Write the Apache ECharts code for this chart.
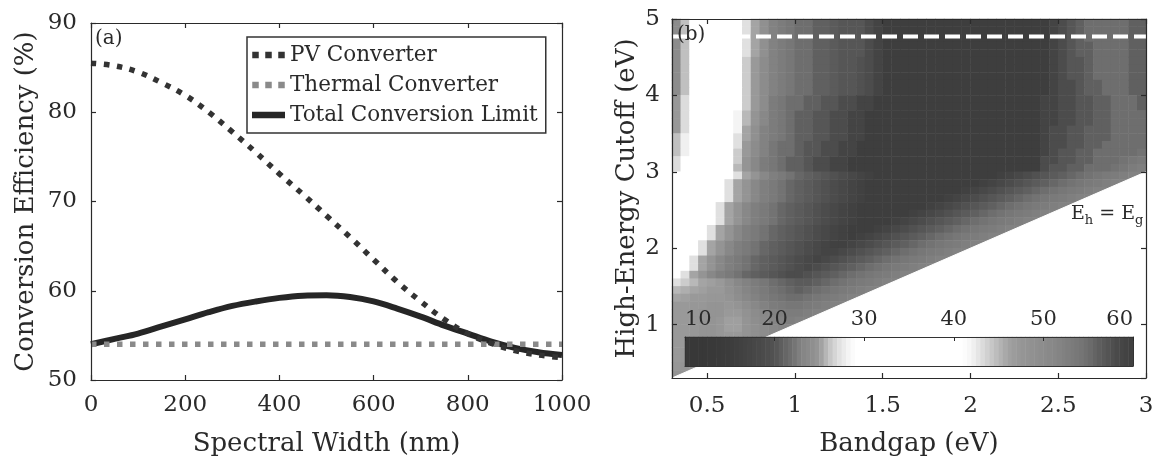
<!DOCTYPE html>
<html>
<head>
<meta charset="utf-8">
<script src="https://cdn.jsdelivr.net/npm/echarts@6/dist/echarts.min.js"></script>
<style>
  html, body { margin: 0; padding: 0; background: #fff; }
  #chart { width: 1157px; height: 462px; }
</style>
</head>
<body>
<div id="chart"></div>
<script>
// ---- (a) conversion efficiency against spectral width ----
const spectralWidth = [0, 50, 100, 150, 200, 250, 300, 350, 400, 450, 500,
                       550, 600, 650, 700, 750, 800, 850, 900, 950, 1000];
const pvConverter = [85.5, 85.2, 84.5, 83.3, 81.9, 80.0, 77.8, 75.5, 73.1, 70.8, 68.4,
                     66.0, 63.5, 61.0, 58.8, 56.8, 55.2, 54.1, 53.3, 52.8, 52.5];
const thermalConverter = [54.0, 54.0, 54.0, 54.0, 54.0, 54.0, 54.0, 54.0, 54.0, 54.0, 54.0,
                          54.0, 54.0, 54.0, 54.0, 54.0, 54.0, 54.0, 54.0, 54.0, 54.0];
const totalLimit = [54.0, 54.6, 55.2, 56.0, 56.8, 57.6, 58.3, 58.8, 59.2, 59.45, 59.5,
                    59.3, 58.8, 58.0, 57.1, 56.1, 55.2, 54.3, 53.6, 53.1, 52.8];
const seriesNames = ['PV Converter', 'Thermal Converter', 'Total Conversion Limit'];

// ---- (b) efficiency map: bandgap columns (0.05 eV), high-energy cutoff rows (0.1 eV) ----
const bandgapCells = [0.325,0.375,0.425,0.475,0.525,0.575,0.625,0.675,0.725,0.775,0.825,0.875,0.925,0.975,
                      1.025,1.075,1.125,1.175,1.225,1.275,1.325,1.375,1.425,1.475,1.525,1.575,1.625,1.675,
                      1.725,1.775,1.825,1.875,1.925,1.975,2.025,2.075,2.125,2.175,2.225,2.275,2.325,2.375,
                      2.425,2.475,2.525,2.575,2.625,2.675,2.725,2.775,2.825,2.875,2.925,2.975];
const cutoffCells = [0.35, 0.45, 0.55, 0.65, 0.75, 0.85, 0.95, 1.05, 1.15, 1.25, 1.35, 1.45, 1.55, 1.65,
                     1.75, 1.85, 1.95, 2.05, 2.15, 2.25, 2.35, 2.45, 2.55, 2.65, 2.75, 2.85, 2.95, 3.05,
                     3.15, 3.25, 3.35, 3.45, 3.55, 3.65, 3.75, 3.85, 3.95, 4.05, 4.15, 4.25, 4.35, 4.45,
                     4.55, 4.65, 4.75, 4.85, 4.95];
// efficiency (%) rows, highest cutoff first; each row stops at the E_h = E_g edge
const efficiencyRows = [
  /*4.95*/ [24,26,36,36,36,36,36,40,43,46,49,52,53,54,55,55,56,56,56.5,57,57,57,58,59, 60,60,60,60,60,60,60,60,60,60,60,60,60,60,60,60,60,60, 60,59,58,57,56,55,55,55,55,55,56,56],
  /*4.85*/ [24,26,36,36,36,36,36,40,43,46,49,52,53,54,55,55,56,56,56.5,57,57,57,58,59, 60,60,60,60,60,60,60,60,60,60,60,60,60,60,60,60,60,60, 60,59,58,57,56,55,55,55,55,55,56,56],
  /*4.75*/ [24,26,36,36,36,36,36,40,43,46,49,52,53,54,55,55,56,56,56.5,57,57,57,58,59, 60,60,60,60,60,60,60,60,60,60,60,60,60,60,60,60,60,60, 60,59,58,57,56,55,55,55,55,55,56,56],
  /*4.65*/ [24,26,36,36,36,36,36,41,43,46,49,52,53,54,55,55,56,56,56.5,57,57,57,58,59, 60,60,60,60,60,60,60,60,60,60,60,60,60,60,60,60,60,60, 60,59,58,57,56,56,55,55,55,55,56,56],
  /*4.55*/ [24,26,36,36,36,36,36,41,43,46,49,52,53,54,55,55,56,56,56.5,57,57,57,58,59, 60,60,60,60,60,60,60,60,60,60,60,60,60,60,60,60,60,60, 60,59,58,57,56,56,55,55,55,55,56,56],
  /*4.45*/ [24,26,36,36,36,36,36,41,44,47,50,52,53,54,55,55,56,56,56.5,57,57,57.5,58,59, 60,60,60,60,60,60,60,60,60,60,60,60,60,60,60,60,60,60, 60,59,58,57,57,56,55,55,55,55,56,56],
  /*4.35*/ [24,26,36,36,36,36,36,41,44,47,50,52,53,54,55,55,56,56,56.5,57,57,57.5,58,59, 60,60,60,60,60,60,60,60,60,60,60,60,60,60,60,60,60,60, 60,59,58,57,57,56,55,55,55,55,56,56],
  /*4.25*/ [24,26,36,36,36,36,36,41,44,47,50,52,53,54,55,55,56,56,56.5,57,57,57.5,58,59, 60,60,60,60,60,60,60,60,60,60,60,60,60,60,60,60,60,60, 60,59,58,57,57,56,55,55,55,55,56,56],
  /*4.15*/ [24,26,36,36,36,36,36,41,44,47,50,52,53,54,55,55,56,56,56.5,57,57,57.5,58,59, 60,60,60,60,60,60,60,60,60,60,60,60,60,60,60,60,60,60, 60,59,58,58,57,56,56,55,55,55,56,56],
  /*4.05*/ [24,26,36,36,36,36,36,41,44,47,50,52,53,54,55,55,56,56,56.5,57,57,57.5,58,59, 60,60,60,60,60,60,60,60,60,60,60,60,60,60,60,60,60,60, 60,59,58,58,57,56,56,55,55,55,56,56],
  /*3.95*/ [25,27,36,36,36,36,36,41,44,47,50,53,54,55,55,56,56,57,57,58,58,59,59,60, 60,60,60,60,60,60,60,60,60,60,60,60,60,60,60,60,60,60, 59,59,58,58,57,57,56,56,55,55,55,56],
  /*3.85*/ [25,27,36,36,36,36,36,41,44,47,50,53,54,55,55,56,56,57,57,58,58,59,59,60, 60,60,60,60,60,60,60,60,60,60,60,60,60,60,60,60,60,60, 59,59,58,58,57,57,56,56,55,55,55,56],
  /*3.75*/ [25,27,36,36,36,36,37,42,45,48,51,53,54,55,56,56,57,57,58,58,59,59,60,60, 60,60,60,60,60,60,60,60,60,60,60,60,60,60,60,60,60,60, 59,59,58,58,57,57,56,56,55,55,55,55],
  /*3.65*/ [25,27,36,36,36,36,37,42,45,48,51,53,54,55,56,56,57,57,58,58,59,59,60,60, 60,60,60,60,60,60,60,60,60,60,60,60,60,60,60,60,60,60, 59,59,58,58,57,57,56,56,55,55,55,55],
  /*3.55*/ [25,27,36,36,36,36,38,42,46,49,52,53,54,55,56,56,57,57,58,58,59,59,60,60, 60,60,60,60,60,60,60,60,60,60,60,60,60,60,60,60,60,60, 59,58,58,57,57,56,56,56,55,55,55,55],
  /*3.45*/ [26,28,36,36,36,36,39,43,46,49,52,53,54,55,56,56,57,57,58,58,59,59,60,60, 60,60,60,60,60,60,60,60,60,60,60,60,60,60,60,60,60,60, 59,58,58,57,57,56,56,56,55,55,55,55],
  /*3.35*/ [26,28,36,36,36,36,40,43,47,50,52,54,55,55,56,57,57,58,58,59,59,60,60,60, 60,60,60,60,60,60,60,60,60,60,60,60,60,60,60,60,60,60, 59,58,58,57,57,56,56,55,55,55,55,55],
  /*3.25*/ [26,28,36,36,36,36,40,44,47,50,52,54,55,55,56,57,57,58,58,59,59,60,60,60, 60,60,60,60,60,60,60,60,60,60,60,60,60,60,60,60,60,60, 59,58,57,57,56,56,55,55,55,55,55,54.5],
  /*3.15*/ [27,29,36,36,36,37,41,44,48,51,53,54,55,56,56,57,58,58,59,59,60,60,60,60, 60,60,60,60,60,60,60,60,60,60,60,60,60,60,60,60,60,60, 58,58,57,57,56,56,55,55,55,54.5,54,53.5],
  /*3.05*/ [27,29,36,36,36,37,41,45,48,51,53,54,55,56,56,57,58,58,59,59,60,60,60,60, 60,60,60,60,60,60,60,60,60,60,60,60,60,60,60,60,60,60, 58,57,57,56,56,55,55,55,54.5,54,53,52.5],
  /*2.95*/ [34,36,36,36,36,36, 40,43,46,48,51,52.5,53.5,54.5,55.5,56,56.5,57,57.5,58,58.5,59,59.5, 60,60,60,60,60,60,60,60,60,60,60,60,60,60, 59.5,59,58.5,58,57.5,57,56.5,56,55.5,55,54.5,54,53.5,53,52.5,52,52],
  /*2.85*/ [34,36,36,36,36, 40,43,46,48,51,52.5,53.5,54.5,55.5,56,56.5,57,57.5,58,58.5,59,59.5, 60,60,60,60,60,60,60,60,60,60,60,60,60, 59.5,59,58.5,58,57.5,57,56.5,56,55.5,55,54.5,54,53.5,53,52.5,52,52],
  /*2.75*/ [34,36,36,36,36, 40,43,46,48,51,52.5,53.5,54.5,55.5,56,56.5,57,57.5,58,58.5,59,59.5, 60,60,60,60,60,60,60,60,60,60,60, 59.5,59,58.5,58,57.5,57,56.5,56,55.5,55,54.5,54,53.5,53,52.5,52,52],
  /*2.65*/ [34,36,36,36,36, 40,43,46,48,51,52.5,53.5,54.5,55.5,56,56.5,57,57.5,58,58.5,59,59.5, 60,60,60,60,60,60,60,60,60, 59.5,59,58.5,58,57.5,57,56.5,56,55.5,55,54.5,54,53.5,53,52.5,52,52],
  /*2.55*/ [34,36,36,36, 40,43,46,48,51,52.5,53.5,54.5,55.5,56,56.5,57,57.5,58,58.5,59,59.5, 60,60,60,60,60,60,60,60, 59.5,59,58.5,58,57.5,57,56.5,56,55.5,55,54.5,54,53.5,53,52.5,52,52],
  /*2.45*/ [34,36,36,36, 40,43,46,48,51,52.5,53.5,54.5,55.5,56,56.5,57,57.5,58,58.5,59,59.5, 60,60,60,60,60,60, 59.5,59,58.5,58,57.5,57,56.5,56,55.5,55,54.5,54,53.5,53,52.5,52,52],
  /*2.35*/ [34,36,36,36, 40,43,46,48,51,52.5,53.5,54.5,55.5,56,56.5,57,57.5,58,58.5,59,59.5, 60,60,60,60, 59.5,59,58.5,58,57.5,57,56.5,56,55.5,55,54.5,54,53.5,53,52.5,52,52],
  /*2.25*/ [34,36,36, 40,43,46,48,51,52.5,53.5,54.5,55.5,56,56.5,57,57.5,58,58.5,59,59.5, 60,60,60, 59.5,59,58.5,58,57.5,57,56.5,56,55.5,55,54.5,54,53.5,53,52.5,52,52],
  /*2.15*/ [34,36,36, 40,43,46,48,51,52.5,53.5,54.5,55.5,56,56.5,57,57.5,58,58.5,59,59.5, 60, 59.5,59,58.5,58,57.5,57,56.5,56,55.5,55,54.5,54,53.5,53,52.5,52,52],
  /*2.05*/ [34,37, 40,43,46,48,51,52.5,53.5,54.5,55.5,56,56.5,57,57.5,58,58.5,59,59.5, 59.5,59,58.5,58,57.5,57,56.5,56,55.5,55,54.5,54,53.5,53,52.5,52,52],
  /*1.95*/ [35,38, 40,43,46,48,51,52.5,53.5,54.5,55.5,56,56.5,57,57.5,58,58.5, 59,59, 58.5,58,57.5,57,56.5,56,55.5,55,54.5,54,53.5,53,52.5,52,52],
  /*1.85*/ [36, 40,43,46,48,51,52.5,53.5,54.5,55.5,56,56.5,57,57.5,58, 58.5,59,58.5, 58,57.5,57,56.5,56,55.5,55,54.5,54,53.5,53,52.5,52,52],
  /*1.75*/ [38, 40,43,46,48,51,52.5,53.5,54.5,55.5,56,56.5,57, 57.5,58,58.5,58,57.5, 57,56.5,56,55.5,55,54.5,54,53.5,53,52.5,52,52],
  /*1.65*/ [40,43,46,48,51,52.5,53.5,54.5,55.5,56,56.5, 57,57.5,58,58,57.5,57, 56.5,56,55.5,55,54.5,54,53.5,53,52.5,52,52],
  /*1.55*/ [43,44,45,46,46.5,47,49,51,52,53,54,55,55.5,56,56.5, 56.5,56,55.5,55,54.5,54,53.5,53,52.5,52,52],
  /*1.45*/ [45,45.5,46,46.5,47,47,48.5,50,51.5,52.5,53.5,54.5,55,55.5, 56,55.5,55,54.5,54,53.5,53,52.5,52,52],
  /*1.35*/ [46,46.5,47,47,47.5,47.5,48,49.5,51,52,53,54,54.5, 55,55,54.5,54,53.5,53,52.5,52,52],
  /*1.25*/ [47,47,47.5,47.5,48,48,47.5,48,49.5,51,52,53,53.5,54,54,53.5,53,52.5,52,52],
  /*1.15*/ [47,47,47.5,48,48,48,47,47,48.5,50,51,52,52.5,53,53,52.5,52,52],
  /*1.05*/ [47,47,47.5,48,48,47.5,46.5,46.5,48,49.5,50.5,51.5,52,52.5,52,52],
  /*0.95*/ [47,47,47.5,48,48,47.5,46.5,46.5,48,49,50,51,51.5,51.5],
  /*0.85*/ [47,47,47.5,48,48,47.5,47,47,48,49,50,51],
  /*0.75*/ [47,47,47.5,48,48,48,47.5,48,49,50],
  /*0.65*/ [47,47.5,48,48,48,48,49,50],
  /*0.55*/ [47,47.5,48,48,48.5,49],
  /*0.45*/ [47.5,48,48,48.5],
  /*0.35*/ [48,48]
];
const edgeLine = [[0.3, 0.3], [3.0, 3.0]];      // E_h = E_g
const solarCutoff = [[0.3, 4.77], [3.0, 4.77]]; // dashed cutoff level
const colorbarMin = 10, colorbarMax = 60, colorbarStep = 10, colorbarResolution = 0.5;

// gray ramp used for the map and its colour bar, one entry per percent from 10 to 60
const grayRamp = [
  '#383838','#383838','#383838','#393939','#3a3a3a','#3c3c3c','#404040','#444444','#484848','#4c4c4c',
  '#525252','#626262','#707070','#848484','#8c8c8c','#989898','#c0c0c0','#dcdcdc','#f0f0f0','#ffffff',
  '#ffffff','#ffffff','#ffffff','#ffffff','#ffffff','#ffffff','#ffffff','#ffffff','#ffffff','#ffffff',
  '#ffffff','#ffffff','#f4f4f4','#e0e0e0','#cccccc','#b8b8b8','#a4a4a4','#999999','#949494','#909090',
  '#8c8c8c','#888888','#828282','#7c7c7c','#777777','#6e6e6e','#606060','#565656','#4c4c4c','#444444',
  '#3e3e3e'
];

const FONT = 'DejaVu Serif';
const INK = '#2a2a2a';

const pair = (xs, ys) => xs.map((x, i) => [x, ys[i]]);
const heatData = [];
efficiencyRows.forEach((row, i) => {
  row.forEach((v, j) => heatData.push([j, cutoffCells.length - 1 - i, v]));
});
// colour key: one cell per colorbarResolution step across the bar
const keyLevels = [];
for (let v = colorbarMin + colorbarResolution / 2; v < colorbarMax; v += colorbarResolution) keyLevels.push(v);
const keyData = keyLevels.map((v, k) => [k, 0, v]);

function frameAxis(extra) {
  return Object.assign({
    type: 'value',
    z: 6,
    axisLine: { show: true, onZero: false, lineStyle: { color: INK, width: 1.2 } },
    axisTick: { show: true, inside: true, length: 5, lineStyle: { color: INK, width: 1.2 } },
    splitLine: { show: false },
    axisLabel: { color: INK, fontFamily: FONT, fontSize: 23 },
    nameLocation: 'middle',
    nameTextStyle: { color: INK, fontFamily: FONT, fontSize: 26 }
  }, extra);
}
const mirror = { axisLabel: { show: false } };
const keyFrame = (extra) => Object.assign({
  type: 'value', gridIndex: 2, z: 10,
  axisLine: { show: true, onZero: false, lineStyle: { color: '#333', width: 1 } },
  axisTick: { show: false }, axisLabel: { show: false }, splitLine: { show: false }
}, extra);

const dotted = 'path://M0 0h6v6H0z M12 0h6v6h-6z M24 0h6v6h-6z';

const chart = echarts.init(document.getElementById('chart'), null, { renderer: 'canvas' });
chart.setOption({
  animation: false,
  backgroundColor: '#fff',
  grid: [
    { left: 91, top: 23, width: 471, height: 360 },
    { left: 672, top: 19, width: 474, height: 360 },
    { left: 685, top: 337, width: 448, height: 29 }
  ],
  title: [
    { text: '(a)', left: 95, top: 29, padding: 0,
      textStyle: { fontFamily: FONT, fontSize: 20, fontWeight: 'normal', color: INK } },
    { text: '(b)', left: 677, top: 25, padding: 0,
      textStyle: { fontFamily: FONT, fontSize: 20, fontWeight: 'normal', color: INK } },
    { text: '{e|E}{s|h}{e| = E}{s|g}', left: 1071, top: 205, padding: 0,
      textStyle: { fontFamily: FONT, fontWeight: 'normal', color: INK,
        rich: {
          e: { fontFamily: FONT, fontSize: 19, lineHeight: 20, verticalAlign: 'top', color: INK },
          s: { fontFamily: FONT, fontSize: 13, lineHeight: 13, padding: [9, 0, 0, 0], verticalAlign: 'top', color: INK }
        } } }
  ],
  legend: {
    data: [
      { name: seriesNames[0], icon: dotted },
      { name: seriesNames[1], icon: dotted },
      { name: seriesNames[2], icon: 'rect' }
    ],
    orient: 'vertical',
    left: 247, top: 37,
    itemWidth: 33, itemHeight: 6.5, itemGap: 4,
    padding: [5, 8, 5, 5],
    borderColor: '#333', borderWidth: 1.5,
    backgroundColor: '#fff',
    selectedMode: false,
    textStyle: { fontFamily: FONT, fontSize: 21.5, color: INK, lineHeight: 26 }
  },
  visualMap: {
    type: 'continuous',
    show: false,
    seriesIndex: [3, 6],
    dimension: 2,
    min: colorbarMin, max: colorbarMax,
    inRange: { color: grayRamp }
  },
  xAxis: [
    frameAxis({ gridIndex: 0, min: 0, max: 1000, interval: 200, position: 'bottom',
      name: 'Spectral Width (nm)', nameGap: 51,
      axisLabel: { color: INK, fontFamily: FONT, fontSize: 23, margin: 14, formatter: v => String(v) } }),
    frameAxis(Object.assign({ gridIndex: 0, min: 0, max: 1000, interval: 200, position: 'top' }, mirror)),
    { type: 'category', gridIndex: 1, data: bandgapCells, show: false },
    frameAxis({ gridIndex: 1, min: 0.3, max: 3, position: 'bottom',
      name: 'Bandgap (eV)', nameGap: 53,
      axisLabel: { color: INK, fontFamily: FONT, fontSize: 23, margin: 17, showMinLabel: false } }),
    frameAxis(Object.assign({ gridIndex: 1, min: 0.3, max: 3, position: 'top' }, mirror)),
    keyFrame({ min: colorbarMin, max: colorbarMax, interval: colorbarStep, position: 'top',
      axisTick: { show: true, inside: true, length: 4, lineStyle: { color: INK, width: 1 } },
      axisLabel: { show: true, color: INK, fontFamily: FONT, fontSize: 21, margin: 7,
                   alignMinLabel: 'left', alignMaxLabel: 'right' } }),
    keyFrame({ min: colorbarMin, max: colorbarMax, position: 'bottom' }),
    { type: 'category', gridIndex: 2, data: keyLevels, show: false }
  ],
  yAxis: [
    frameAxis({ gridIndex: 0, min: 50, max: 90, interval: 10, position: 'left',
      name: 'Conversion Efficiency (%)', nameGap: 52,
      axisLabel: { color: INK, fontFamily: FONT, fontSize: 23, margin: 14 } }),
    frameAxis(Object.assign({ gridIndex: 0, min: 50, max: 90, interval: 10, position: 'right' }, mirror)),
    { type: 'category', gridIndex: 1, data: cutoffCells, show: false },
    frameAxis({ gridIndex: 1, min: 0.3, max: 5, position: 'left',
      name: 'High-Energy Cutoff (eV)', nameGap: 32,
      axisLabel: { color: INK, fontFamily: FONT, fontSize: 23, margin: 12, showMinLabel: false } }),
    frameAxis(Object.assign({ gridIndex: 1, min: 0.3, max: 5, position: 'right' }, mirror)),
    keyFrame({ min: 0, max: 1, position: 'left' }),
    keyFrame({ min: 0, max: 1, position: 'right' }),
    { type: 'category', gridIndex: 2, data: ['key'], show: false }
  ],
  series: [
    { name: seriesNames[2], type: 'line', xAxisIndex: 0, yAxisIndex: 0, z: 3,
      data: pair(spectralWidth, totalLimit), smooth: 0.35, symbol: 'none', silent: true,
      itemStyle: { color: '#262626' },
      lineStyle: { color: '#262626', width: 6 } },
    { name: seriesNames[1], type: 'line', xAxisIndex: 0, yAxisIndex: 0, z: 4,
      data: pair(spectralWidth, thermalConverter), symbol: 'none', silent: true,
      itemStyle: { color: '#8a8a8a' },
      lineStyle: { color: '#8a8a8a', width: 5.5, type: [5.5, 7.5], cap: 'butt' } },
    { name: seriesNames[0], type: 'line', xAxisIndex: 0, yAxisIndex: 0, z: 5,
      data: pair(spectralWidth, pvConverter), smooth: 0.4, symbol: 'none', silent: true,
      itemStyle: { color: '#333' },
      lineStyle: { color: '#333', width: 5.5, type: [5.5, 7.5], cap: 'butt' } },
    { type: 'heatmap', xAxisIndex: 2, yAxisIndex: 2, z: 2, data: heatData,
      silent: true, progressive: 0, itemStyle: { borderWidth: 0 } },
    { type: 'line', xAxisIndex: 3, yAxisIndex: 3, z: 3, data: edgeLine, symbol: 'none', silent: true,
      lineStyle: { color: '#fff', width: 1 },
      areaStyle: { color: '#fff', opacity: 1, origin: 'start' } },
    { type: 'line', xAxisIndex: 3, yAxisIndex: 3, z: 3, data: solarCutoff, symbol: 'none', silent: true,
      lineStyle: { color: '#fff', width: 4, type: [15, 6], cap: 'butt' } },
    { type: 'heatmap', xAxisIndex: 7, yAxisIndex: 7, z: 4, data: keyData,
      silent: true, progressive: 0, itemStyle: { borderWidth: 0 } }
  ]
});
</script>
</body>
</html>
